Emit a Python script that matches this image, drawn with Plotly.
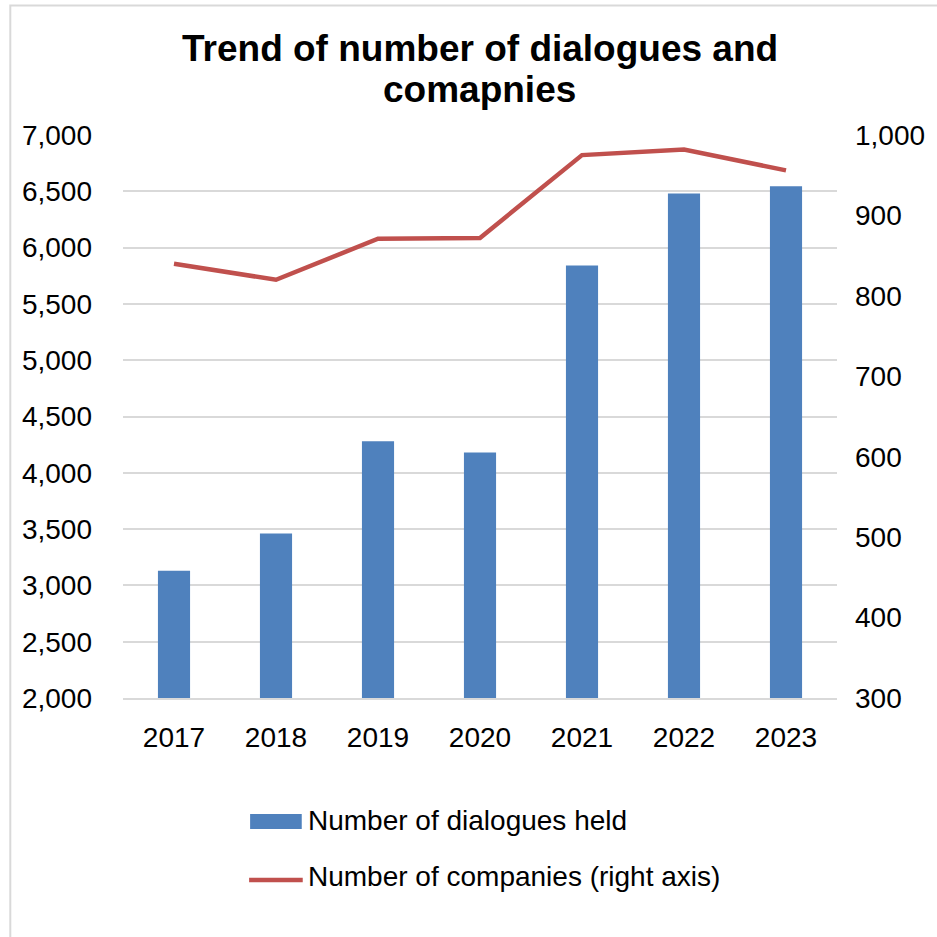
import plotly.graph_objects as go

# Chart data
years = ["2017", "2018", "2019", "2020", "2021", "2022", "2023"]
dialogues_held = [3130, 3460, 4280, 4180, 5840, 6480, 6545]
companies = [840, 820, 871, 872, 975, 982, 956]

BAR_COLOR = "#4F81BD"
LINE_COLOR = "#C0504D"
GRID_COLOR = "#D9D9D9"
FONT = "Liberation Sans, Arial, sans-serif"

W, H = 937, 937
ML, MR, MT, MB = 123, 95, 135, 239
PW, PH = W - ML - MR, H - MT - MB


def px_x(px):
    return (px - ML) / PW


def px_y(py):
    return (H - MB - py) / PH


fig = go.Figure()

fig.add_trace(go.Bar(
    x=years, y=dialogues_held, name="Number of dialogues held",
    marker=dict(color=BAR_COLOR, line=dict(width=0)),
    width=0.315, yaxis="y",
))

fig.add_trace(go.Scatter(
    x=years, y=companies, name="Number of companies (right axis)",
    mode="lines", line=dict(color=LINE_COLOR, width=4.5),
    yaxis="y2",
))

tick_font = dict(family=FONT, size=28, color="#000000")

fig.update_layout(
    width=W, height=H,
    margin=dict(l=ML, r=MR, t=MT, b=MB, pad=0),
    paper_bgcolor="white", plot_bgcolor="white",
    showlegend=False,
    font=dict(family=FONT, color="#000000"),
    xaxis=dict(
        type="category", showgrid=False, zeroline=False,
        showline=True, linecolor=GRID_COLOR, linewidth=1.5,
        ticks="", tickfont=tick_font, ticklabelstandoff=14,
    ),
    yaxis=dict(
        range=[2000, 7000], dtick=500, tickformat=",",
        showgrid=True, gridcolor=GRID_COLOR, gridwidth=1.5,
        zeroline=False, showline=False, ticks="",
        tickfont=tick_font, ticklabelstandoff=30,
    ),
    yaxis2=dict(
        range=[300, 1000], dtick=100, tickformat=",",
        overlaying="y", side="right", showgrid=False,
        zeroline=False, showline=False, ticks="",
        tickfont=tick_font, ticklabelstandoff=17,
    ),
)

# Two-line bold title
title_font = dict(family=FONT, size=37, color="#000000")
for text, py in [("<b>Trend of number of dialogues and</b>", 48.7),
                 ("<b>comapnies</b>", 89.7)]:
    fig.add_annotation(
        text=text, xref="paper", yref="paper",
        x=px_x(482), y=px_y(py), xanchor="center", yanchor="middle",
        showarrow=False, font=title_font,
    )

# Legend drawn below the plot
legend_font = dict(family=FONT, size=28, color="#000000")
fig.add_shape(
    type="rect", xref="paper", yref="paper",
    x0=px_x(251), x1=px_x(303), y0=px_y(829), y1=px_y(814),
    fillcolor=BAR_COLOR, line=dict(width=0),
)
fig.add_annotation(
    text="Number of dialogues held", xref="paper", yref="paper",
    x=px_x(307), y=px_y(820), xanchor="left", yanchor="middle",
    showarrow=False, font=legend_font,
)
fig.add_shape(
    type="line", xref="paper", yref="paper",
    x0=px_x(250), x1=px_x(304), y0=px_y(880), y1=px_y(880),
    line=dict(color=LINE_COLOR, width=4.5),
)
fig.add_annotation(
    text="Number of companies (right axis)", xref="paper", yref="paper",
    x=px_x(307), y=px_y(876), xanchor="left", yanchor="middle",
    showarrow=False, font=legend_font,
)

# Chart-area frame
fig.add_shape(
    type="rect", xref="paper", yref="paper",
    x0=px_x(9.5), x1=px_x(960), y0=px_y(960), y1=px_y(5.5),
    line=dict(color=GRID_COLOR, width=2), fillcolor="rgba(0,0,0,0)",
    layer="below",
)

fig.write_html("out.html")
